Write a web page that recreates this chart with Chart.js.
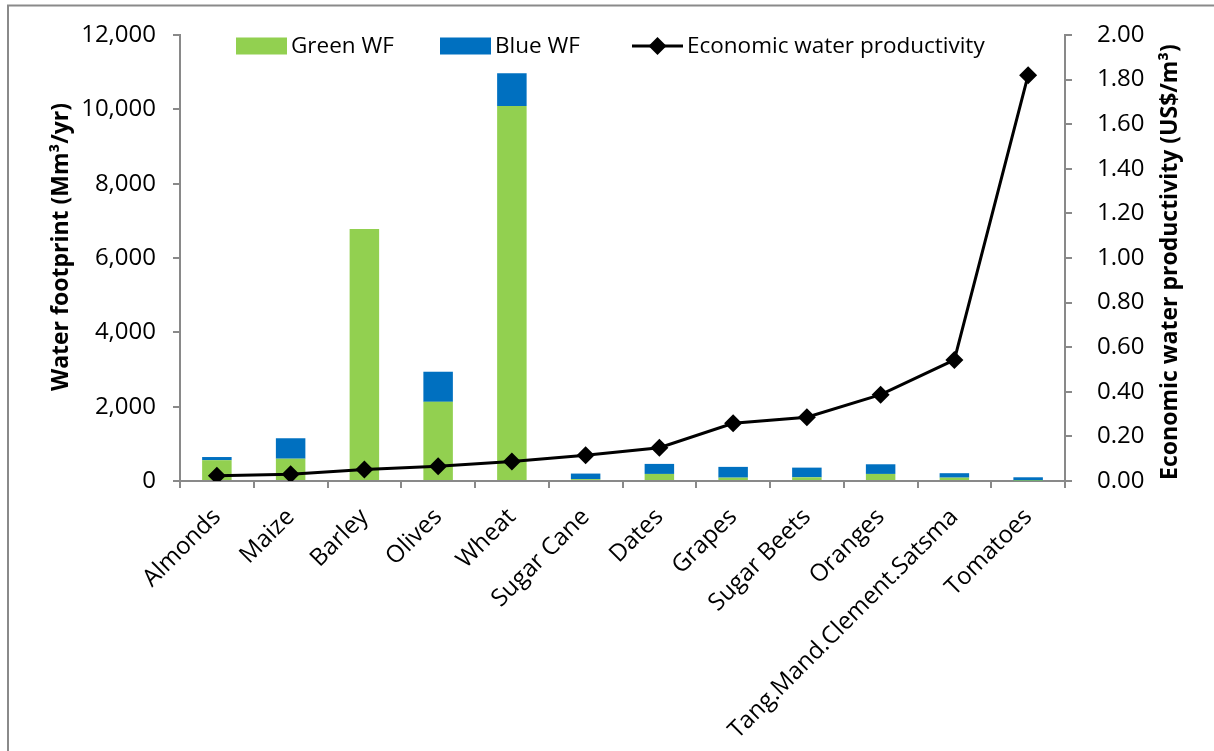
<!DOCTYPE html>
<html>
<head>
<meta charset="utf-8">
<title>Water footprint and economic water productivity by crop</title>
<script src="https://cdn.jsdelivr.net/npm/chart.js@4.4.1/dist/chart.umd.min.js"></script>
<style>
  html, body { margin: 0; padding: 0; background: #ffffff; }
  canvas { display: block; }
</style>
</head>
<body>
<canvas id="chart" width="1214" height="751"></canvas>
<script>
// Crops, ordered by economic water productivity
const categories = ['Almonds', 'Maize', 'Barley', 'Olives', 'Wheat', 'Sugar Cane', 'Dates',
  'Grapes', 'Sugar Beets', 'Oranges', 'Tang.Mand.Clement.Satsma', 'Tomatoes'];

// Water footprint components (Mm³/yr)
const greenWF = [560, 600, 6780, 2130, 10090, 50, 190, 90, 100, 190, 90, 10];
const blueWF  = [85, 550, 0, 810, 880, 150, 270, 290, 260, 260, 120, 90];

// Economic water productivity (US$/m³)
const productivity = [0.024, 0.030, 0.052, 0.066, 0.087, 0.116, 0.149, 0.259, 0.286, 0.387, 0.543, 1.82];

// Axis tick values
const footprintTicks    = [0, 2000, 4000, 6000, 8000, 10000, 12000];
const productivityTicks = [0, 0.2, 0.4, 0.6, 0.8, 1.0, 1.2, 1.4, 1.6, 1.8, 2.0];

const FONT = "'Open Sans', 'Liberation Sans', sans-serif";
const AXIS_GREY = '#898989';

// White page with the frame line along the top and left edges
const framePlugin = {
  id: 'frame',
  beforeDraw(chart) {
    const ctx = chart.ctx;
    ctx.save();
    ctx.fillStyle = '#ffffff';
    ctx.fillRect(0, 0, chart.width, chart.height);
    ctx.strokeStyle = '#8a8a8a';
    ctx.lineWidth = 2;
    ctx.beginPath();
    ctx.moveTo(8, chart.height);
    ctx.lineTo(8, 5.5);
    ctx.lineTo(chart.width, 5.5);
    ctx.stroke();
    ctx.restore();
  }
};

// Vertical axis titles, both reading bottom-to-top
const axisTitlePlugin = {
  id: 'axisTitles',
  afterDraw(chart, args, opts) {
    const ctx = chart.ctx;
    ctx.save();
    ctx.font = opts.font;
    ctx.fillStyle = '#000000';
    ctx.textAlign = 'center';
    ctx.textBaseline = 'middle';
    for (const t of opts.titles) {
      ctx.save();
      ctx.translate(t.x, t.y);
      ctx.rotate(-Math.PI / 2);
      ctx.fillText(t.text, 0, 0);
      ctx.restore();
    }
    ctx.restore();
  }
};

// Series key drawn inside the top of the plot area
const seriesKeyPlugin = {
  id: 'seriesKey',
  afterDraw(chart, args, opts) {
    const ctx = chart.ctx;
    const area = chart.chartArea;
    ctx.save();
    ctx.font = opts.font;
    const y = area.top + opts.offsetY;
    ctx.textBaseline = 'middle';
    ctx.textAlign = 'left';
    chart.data.datasets.forEach((ds, i) => {
      const x = opts.itemX[i];
      if (ds.type === 'line') {
        ctx.strokeStyle = ds.borderColor;
        ctx.lineWidth = ds.borderWidth;
        ctx.beginPath();
        ctx.moveTo(x, y);
        ctx.lineTo(x + opts.swatchWidth, y);
        ctx.stroke();
        const cx = x + opts.swatchWidth / 2;
        const r = opts.markerRadius;
        ctx.fillStyle = ds.pointBackgroundColor;
        ctx.beginPath();
        ctx.moveTo(cx, y - r);
        ctx.lineTo(cx + r, y);
        ctx.lineTo(cx, y + r);
        ctx.lineTo(cx - r, y);
        ctx.closePath();
        ctx.fill();
      } else {
        ctx.fillStyle = ds.backgroundColor;
        ctx.fillRect(x, y - opts.swatchHeight / 2, opts.swatchWidth, opts.swatchHeight);
      }
      ctx.fillStyle = '#000000';
      ctx.fillText(ds.label, x + opts.swatchWidth + opts.gap, y + 1);
    });
    ctx.restore();
  }
};

// Vertical axes keep a fixed width and do not push the plot area down
function fixVertical(width) {
  return scale => {
    scale.width = width;
    scale.paddingTop = 0;
    scale.paddingBottom = 0;
  };
}

const ctx = document.getElementById('chart').getContext('2d');

new Chart(ctx, {
  type: 'bar',
  data: {
    labels: categories,
    datasets: [
      {
        label: 'Green WF',
        data: greenWF,
        backgroundColor: '#92D050',
        borderWidth: 0,
        stack: 'wf',
        yAxisID: 'y',
        order: 2,
        barPercentage: 0.8,
        categoryPercentage: 0.5
      },
      {
        label: 'Blue WF',
        data: blueWF,
        backgroundColor: '#0070C0',
        borderWidth: 0,
        stack: 'wf',
        yAxisID: 'y',
        order: 2,
        barPercentage: 0.8,
        categoryPercentage: 0.5
      },
      {
        type: 'line',
        label: 'Economic water productivity',
        data: productivity,
        yAxisID: 'y1',
        borderColor: '#000000',
        borderWidth: 3,
        pointStyle: 'rectRot',
        pointRadius: 9,
        pointBackgroundColor: '#000000',
        pointBorderColor: '#000000',
        pointBorderWidth: 0,
        tension: 0,
        order: 0
      }
    ]
  },
  options: {
    responsive: false,
    devicePixelRatio: 1,
    animation: false,
    layout: { padding: { left: 10, right: 0, top: 35, bottom: 0 } },
    plugins: {
      legend: { display: false },
      tooltip: { enabled: false },
      axisTitles: {
        font: `bold 23px ${FONT}`,
        titles: [
          { text: 'Water footprint (Mm³/yr)', x: 61, y: 247 },
          { text: 'Economic water productivity (US$/m³)', x: 1170, y: 262 }
        ]
      },
      seriesKey: {
        font: `22.5px ${FONT}`,
        itemX: [236, 440, 632],
        swatchWidth: 51,
        swatchHeight: 17,
        markerRadius: 9,
        gap: 4,
        offsetY: 11
      }
    },
    scales: {
      x: {
        stacked: true,
        grid: {
          display: true,
          offset: true,
          drawOnChartArea: false,
          drawTicks: true,
          tickLength: 7,
          color: AXIS_GREY,
          lineWidth: 2
        },
        border: { display: true, color: AXIS_GREY, width: 2 },
        ticks: {
          color: '#000000',
          font: { family: FONT, size: 24 },
          minRotation: 45,
          maxRotation: 45,
          autoSkip: false,
          padding: 15
        },
        afterFit(scale) { scale.height = 270; }
      },
      y: {
        type: 'linear',
        position: 'left',
        stacked: true,
        min: 0,
        max: 12000,
        afterBuildTicks(scale) { scale.ticks = footprintTicks.map(v => ({ value: v })); },
        grid: {
          display: true,
          drawOnChartArea: false,
          drawTicks: true,
          tickLength: 7,
          color: AXIS_GREY,
          lineWidth: 2
        },
        border: { display: true, color: AXIS_GREY, width: 2 },
        ticks: {
          color: '#000000',
          font: { family: FONT, size: 24 },
          padding: 17,
          callback: v => v.toLocaleString('en-US')
        },
        afterFit: fixVertical(170)
      },
      y1: {
        type: 'linear',
        position: 'right',
        min: 0,
        max: 2,
        afterBuildTicks(scale) { scale.ticks = productivityTicks.map(v => ({ value: v })); },
        grid: {
          display: true,
          drawOnChartArea: false,
          drawTicks: true,
          tickLength: 7,
          color: AXIS_GREY,
          lineWidth: 2
        },
        border: { display: true, color: AXIS_GREY, width: 2 },
        ticks: {
          color: '#000000',
          font: { family: FONT, size: 24 },
          padding: 25,
          callback: v => Number(v).toFixed(2)
        },
        afterFit: fixVertical(149)
      }
    }
  },
  plugins: [framePlugin, axisTitlePlugin, seriesKeyPlugin]
});
</script>
</body>
</html>
